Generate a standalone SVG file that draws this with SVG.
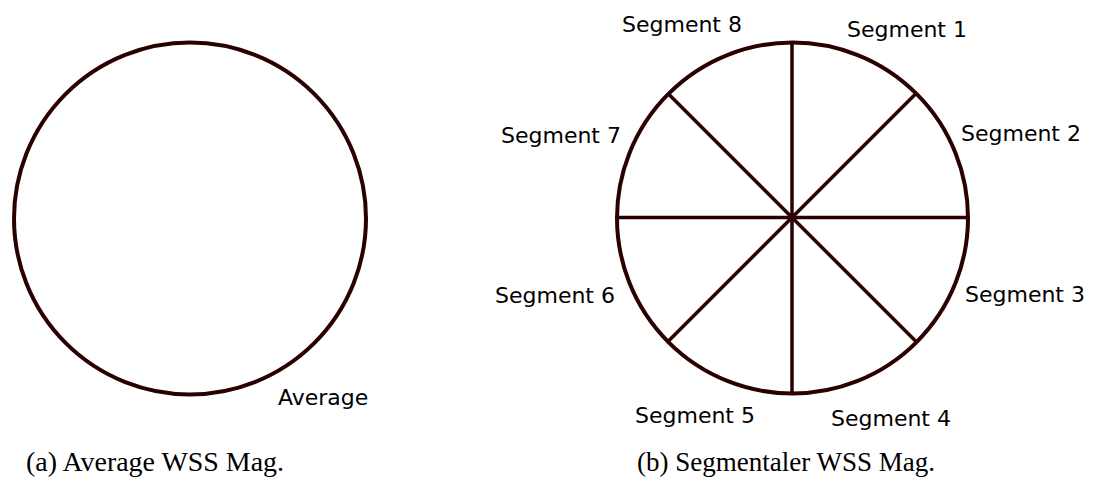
<svg xmlns="http://www.w3.org/2000/svg" width="1093" height="487" viewBox="0 0 1093 487">
<style>
.ring{fill:none;stroke:#2b0000;stroke-width:4}
.spoke{stroke:#2b0000;stroke-width:3.5;fill:none}
.lbl{font-family:"DejaVu Sans",sans-serif;font-size:22px;fill:#000}
.cap{font-family:"Liberation Serif",serif;font-size:27px;fill:#000}
</style>
<rect width="1093" height="487" fill="#fff"/>
<g id="average">
<circle class="ring" cx="190" cy="218.5" r="176"/>
<text class="lbl" x="278" y="405">Average</text>
</g>
<g id="segmental">
<circle class="ring" cx="792.5" cy="218" r="175.5" stroke-width="4.5"/>
</g>
<g id="connectors">
<line class="spoke" x1="792" y1="42" x2="792" y2="394"/>
<line class="spoke" x1="617" y1="217.5" x2="968" y2="217.5"/>
<line class="spoke" x1="668" y1="93.5" x2="916" y2="341.5"/>
<line class="spoke" x1="916" y1="93.5" x2="668" y2="341.5"/>
</g>
<g id="labels">
<text class="lbl" x="622" y="32">Segment 8</text>
<text class="lbl" x="847" y="37">Segment 1</text>
<text class="lbl" x="501" y="143">Segment 7</text>
<text class="lbl" x="961" y="141">Segment 2</text>
<text class="lbl" x="495" y="303">Segment 6</text>
<text class="lbl" x="965" y="302">Segment 3</text>
<text class="lbl" x="635" y="423">Segment 5</text>
<text class="lbl" x="831" y="426">Segment 4</text>
</g>
<g id="captions">
<text class="cap" x="26" y="471" textLength="258" lengthAdjust="spacingAndGlyphs">(a)  Average WSS Mag.</text>
<text class="cap" x="637" y="471" textLength="298" lengthAdjust="spacingAndGlyphs">(b)  Segmentaler WSS Mag.</text>
</g>
</svg>
